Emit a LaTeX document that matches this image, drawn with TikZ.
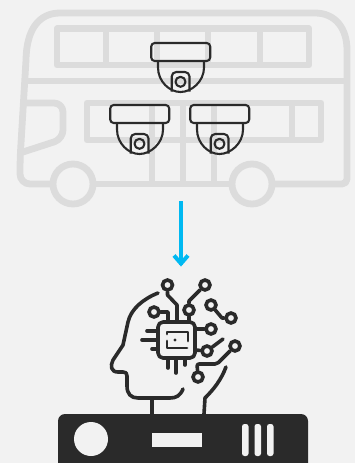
\documentclass[tikz,border=0pt]{standalone}
\usetikzlibrary{arrows.meta}
\definecolor{bgc}{HTML}{F2F2F2}
\definecolor{busc}{HTML}{DCDCDC}
\definecolor{inkc}{HTML}{2A2A2A}
\definecolor{arrowc}{HTML}{00B9F2}
\tikzset{
  buspart/.style={draw=busc,line width=6.8pt,line join=round,line cap=butt},
  camline/.style={draw=inkc,line width=2.1pt,line join=round},
  headline/.style={draw=inkc,line width=3.6pt,line cap=round,line join=round},
  chipline/.style={draw=inkc,line width=2.9pt,line cap=round,line join=round},
  padring/.style={draw=inkc,line width=3.6pt,circle,minimum size=10pt,inner sep=0pt},
  hole/.style={fill=bgc,draw=none}
}
\newcommand{\domecam}[2]{%
  \begin{scope}[shift={(#1,#2)}]
    \draw[camline,rounded corners=3.5pt] (-29.3,-18.5) rectangle (29.7,-0.5);
    \draw[camline] (-22.5,-0.5) -- (-22.5,6) .. controls (-22.5,20) and (-11,30.5) .. (0,30.5) .. controls (11,30.5) and (23.5,20) .. (23.5,6) -- (23.5,-0.5);
    \draw[camline,rounded corners=4.5pt] (-8.8,30) -- (-8.8,10.5) -- (9,10.5) -- (9,30);
    \draw[camline] (0,20.3) circle (5pt);
  \end{scope}}
\begin{document}
\begin{tikzpicture}[x=1pt,y=-1pt]
\useasboundingbox (0,0) rectangle (355,463);
\fill[bgc] (0,0) rectangle (355,463);
% bus
\draw[buspart,rounded corners=10pt] (52,184) -- (20,184) -- (20,160) -- (26,60);
\draw[buspart] (26,60) .. controls (26.5,28) and (40,13) .. (60,13) -- (315,13) .. controls (335,13) and (347,28) .. (347,50);
\draw[buspart,rounded corners=5pt] (347,50) -- (347,184) -- (275,184);
\draw[buspart] (95,184) -- (230,184);
\draw[buspart] (57,28.7) rectangle (309,65);
\foreach \wx in {106,157,208,260} \draw[buspart] (\wx,28.7) -- (\wx,65);
\draw[buspart] (26,81) -- (347,81);
\draw[buspart] (87,103) rectangle (321,140);
\draw[buspart] (292,103) -- (292,140);
\foreach \dx in {152,183,214} \draw[buspart] (\dx,103) -- (\dx,184);
\draw[buspart,rounded corners=9pt] (25,103) -- (63,103) -- (63,139) -- (23,152);
\draw[buspart] (73,184) circle (20pt);
\draw[buspart] (252,184) circle (20pt);
% cameras
\domecam{180.5}{61.5}
\domecam{139.5}{123.5}
\domecam{219.5}{123.5}
% arrow
\coordinate (arrowfrom) at (181,201);
\coordinate (arrowto) at (181,265);
\draw[draw=arrowc,line width=4pt] (arrowfrom) -- (arrowto);
\draw[draw=arrowc,line width=4pt,line join=miter] (174,255.5) -- (181,263.5) -- (188,255.5);
% head
\draw[headline] (158,293) .. controls (143,299) and (131,309) .. (128,322) -- (123,345) -- (113,360) .. controls (110,366) and (111,372) .. (118,372) -- (123,372) .. controls (126,372) and (127,373) .. (127,376) -- (127,386) .. controls (127,394) and (131,398) .. (138,398) -- (170,398) .. controls (176,398) and (180,396) .. (183,389);
\draw[headline] (152,399) -- (152,414);
\draw[headline] (226,367) .. controls (221,380) and (214,389) .. (205,398) -- (204,414);
% chip
\draw[headline,rounded corners=5pt] (158,322) rectangle (195,358);
\draw[chipline] (167,334) -- (167,332) -- (188,332) -- (188,341);
\draw[chipline] (167,341) -- (167,348) -- (187,348);
\fill[inkc] (175,340) circle (1.7pt);
% pins
\draw[headline] (147,331) -- (158,331);
\draw[headline] (142,340) -- (158,340);
\draw[headline] (152,349) -- (158,349);
\draw[headline] (168,358) -- (168,368);
\draw[headline] (176,358) -- (176,373);
\draw[headline] (185,358) -- (185,365);
% circuit pads
\node[padring] (pa) at (167.5,285) {};
\node[padring] (pb) at (205,285) {};
\node[padring] (pc) at (189,310) {};
\node[padring] (pd) at (154,312) {};
\node[padring] (pe) at (211,305) {};
\node[padring] (pf) at (231,318) {};
\node[padring] (pg) at (211,329) {};
\node[padring] (ph) at (207,351) {};
\node[padring] (pi) at (235,346) {};
\node[padring] (pj) at (198,377) {};
\draw[headline] (pa) -- (167.5,295) -- (177,305) -- (177,322);
\draw[headline] (pb) -- (189,301) -- (pc);
\draw[headline] (pc) -- (189,322);
\draw[headline] (pd) -- (168,312) -- (168,322);
\draw[headline] (pe) -- (222,318) -- (pf);
\draw[headline] (195,329) -- (pg);
\draw[headline] (195,350) -- (ph);
\draw[headline] (ph) -- (223,339);
\draw[headline,rounded corners=2pt] (pi) -- (217,364) -- (197,364) -- (pj);
% server
\fill[inkc,rounded corners=7pt] (58,414) rectangle (308,470);
\fill[hole] (91,439) circle (17pt);
\fill[hole] (152,433) rectangle (202,447);
\fill[hole,rounded corners=2.5pt] (242,424) rectangle (248.5,456);
\fill[hole,rounded corners=2.5pt] (254.5,424) rectangle (261,456);
\fill[hole,rounded corners=2.5pt] (267,424) rectangle (273.5,456);
\end{tikzpicture}
\end{document}
